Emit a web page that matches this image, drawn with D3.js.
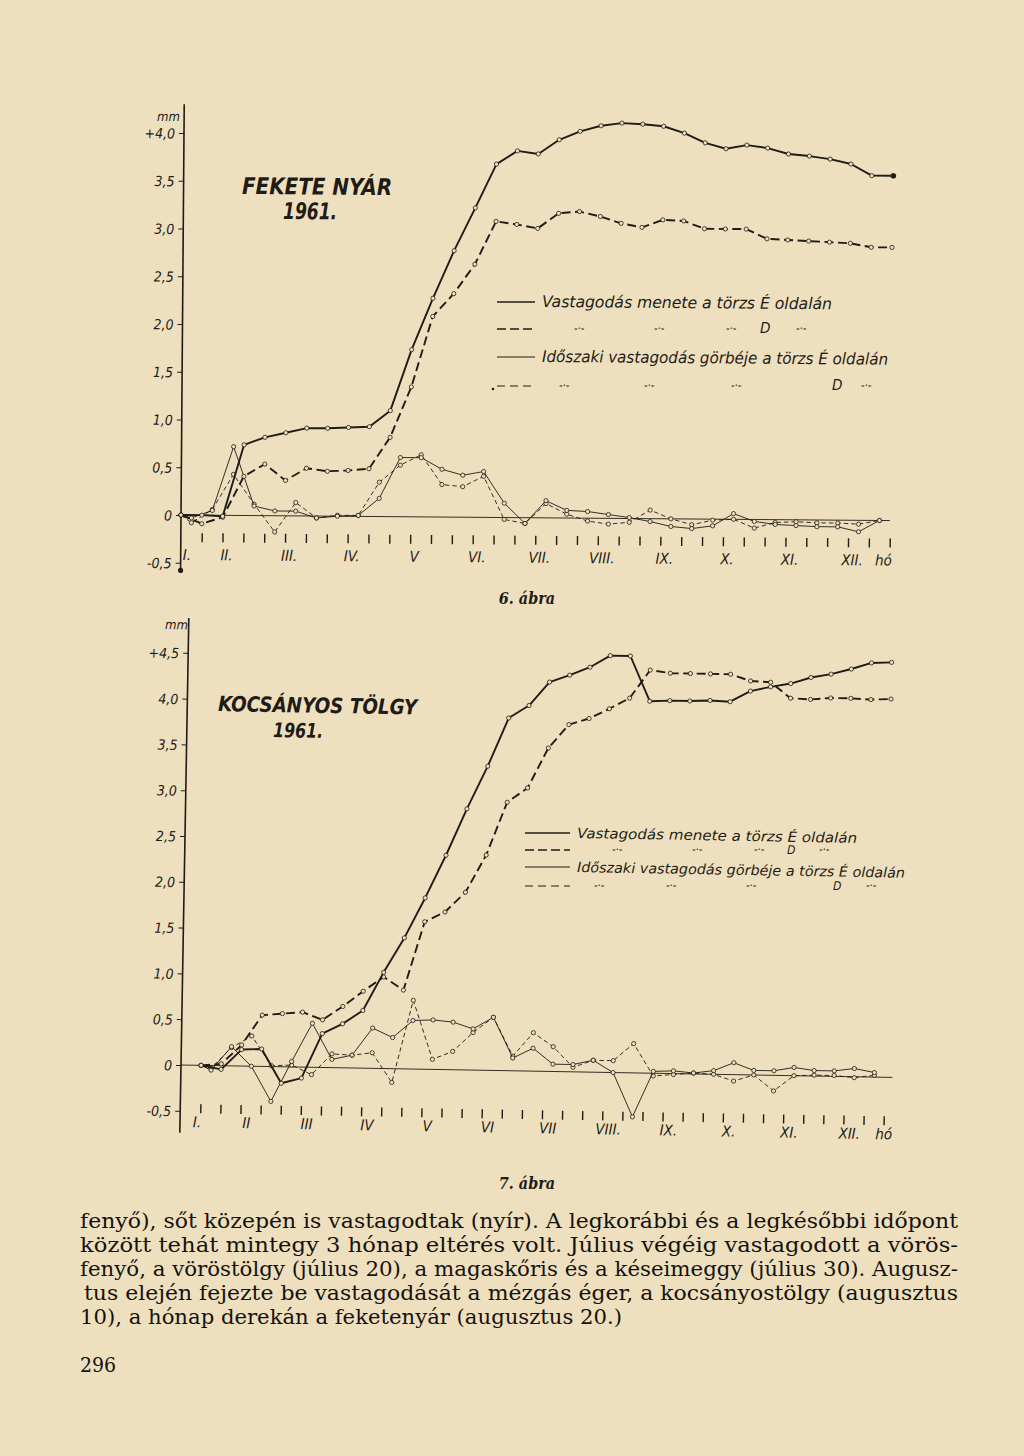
<!DOCTYPE html>
<html><head><meta charset="utf-8">
<script src="https://cdn.jsdelivr.net/npm/d3@7"></script>
<style>body{margin:0;background:#eee0be}svg{display:block}</style>
</head><body>
<svg id="c" width="1024" height="1456"></svg>
<script>
// ---------------- DATA ----------------
// 6. ábra – FEKETE NYÁR 1961 (dekads, cumulative k = 0..34)
const title6 = ["FEKETE NYÁR", "1961."];
const months6 = ["I.","II.","III.","IV.","V","VI.","VII.","VIII.","IX.","X.","XI.","XII."];
const yVals6 = [-0.5,0,0.5,1,1.5,2,2.5,3,3.5,4];
const yText6 = ["-0,5","0","0,5","1,0","1,5","2,0","2,5","3,0","3,5","+4,0"];
const cumE6 = [0,0,-0.01,0.74,0.82,0.87,0.92,0.92,0.93,0.94,1.11,1.75,2.29,2.79,3.24,3.70,3.84,3.81,3.96,4.05,4.11,4.14,4.13,4.11,4.04,3.94,3.88,3.92,3.89,3.83,3.81,3.78,3.73,3.61,3.61];
const cumD6 = [0,-0.09,-0.02,0.41,0.54,0.37,0.50,0.47,0.48,0.50,0.83,1.36,2.10,2.34,2.65,3.10,3.07,3.03,3.19,3.21,3.16,3.09,3.05,3.13,3.12,3.04,3.04,3.04,2.94,2.93,2.92,2.91,2.90,2.86,2.86];
const perE6 = [0,-0.03,0.05,0.72,0.10,0.05,0.05,-0.02,0.0,0.01,0.19,0.62,0.62,0.50,0.44,0.48,0.15,-0.06,0.18,0.08,0.07,0.04,0.01,-0.03,-0.08,-0.10,-0.07,0.06,-0.02,-0.05,-0.06,-0.07,-0.07,-0.12,0.0];
const perD6 = [0,-0.08,0.06,0.43,0.12,-0.17,0.14,-0.02,0.01,0.01,0.36,0.54,0.65,0.34,0.32,0.43,-0.02,-0.06,0.15,0.04,-0.03,-0.06,-0.04,0.09,0.0,-0.06,-0.01,0.0,-0.09,-0.03,-0.02,-0.03,-0.03,-0.04,0.0];

// 7. ábra – KOCSÁNYOS TÖLGY 1961 (cumulative k = 1..35)
const title7 = ["KOCSÁNYOS TÖLGY", "1961."];
const months7 = ["I.","II","III","IV","V","VI","VII","VIII.","IX.","X.","XI.","XII."];
const yVals7 = [-0.5,0,0.5,1,1.5,2,2.5,3,3.5,4,4.5];
const yText7 = ["-0,5","0","0,5","1,0","1,5","2,0","2,5","3,0","3,5","4,0","+4,5"];
const cumE7 = [0,-0.04,0.18,0.19,-0.18,-0.12,0.37,0.48,0.63,1.05,1.43,1.87,2.34,2.85,3.32,3.85,3.99,4.25,4.33,4.42,4.55,4.55,4.06,4.07,4.07,4.08,4.07,4.19,4.24,4.28,4.35,4.39,4.45,4.52,4.53];
const cumD7 = [0,0.02,0.23,0.56,0.58,0.60,0.52,0.67,0.84,1.00,0.86,1.61,1.72,1.94,2.35,2.93,3.09,3.53,3.79,3.86,3.97,4.09,4.40,4.37,4.37,4.37,4.37,4.30,4.29,4.12,4.11,4.13,4.13,4.12,4.13];
const perE7 = [0,-0.05,0.21,0.0,-0.38,0.06,0.48,0.09,0.14,0.44,0.34,0.53,0.54,0.52,0.45,0.58,0.14,0.25,0.08,0.08,0.13,0.0,-0.48,0.02,0.03,0.01,0.04,0.13,0.05,0.05,0.09,0.06,0.06,0.09,0.05];
const perD7 = [0,-0.03,0.20,0.33,0.01,0.02,-0.08,0.15,0.14,0.17,-0.15,0.75,0.11,0.20,0.41,0.58,0.16,0.42,0.27,0.05,0.13,0.13,0.32,-0.03,-0.01,0.01,0.0,-0.07,0.0,-0.17,0.0,0.01,0.01,-0.01,0.02];

const legendMain = "Vastagodás menete a törzs É oldalán";
const legendPer = "Időszaki vastagodás görbéje a törzs É oldalán";
const unitY = "mm", unitX = "hó";
const captions = ["6. ábra", "7. ábra"];
const bodyLines = [
  "fenyő), sőt közepén is vastagodtak (nyír). A legkorábbi és a legkésőbbi időpont",
  "között tehát mintegy 3 hónap eltérés volt. Július végéig vastagodott a vörös-",
  "fenyő, a vöröstölgy (július 20), a magaskőris és a késeimeggy (július 30). Augusz-",
  "tus elején fejezte be vastagodását a mézgás éger, a kocsányostölgy (augusztus",
  "10), a hónap derekán a feketenyár (augusztus 20.)"
];
const pageNo = "296";

// ---------------- STYLE / LAYOUT ----------------
const INK = "#1f1b16", PAPER = "#eee0be";
const HAND = "'Liberation Sans Narrow','DejaVu Sans Condensed',sans-serif";
const SERIF = "'DejaVu Serif Condensed','DejaVu Serif','Liberation Serif',serif";

const svg = d3.select("#c");
svg.append("rect").attr("width",1024).attr("height",1456).attr("fill",PAPER);

const cfg6 = {ox:181, oy:515, dx:20.85, dy:95.5, angle:0.45, start:0, nTicks:34, zeroEnd:34,
  axisTop:4.3, axisBottom:-0.58, tickOff:18, tickLen:9, labelDy:45, endDot:true, axisDot:true,
  monthK:i=> i===0?0.3:3*(i+1)-3.8, hoK:33.3,
  mm:[157,121], title:[[242,194,150,23],[283,219,54,23]],
  legend:{lineX:[497,535], textX:542, rows:[302,329,357,386], mainLen:290, perLen:346, fs:16, dfs:15,
    ditto2:[580,660,732,802], D2:765, ditto4:[565,650,737,867], D4:837, dot4:true}};
const cfg7 = {ox:181, oy:1065, dx:20.1, dy:91.6, angle:1.0, start:1, nTicks:35, zeroEnd:35.4,
  axisTop:4.88, axisBottom:-0.74, tickOff:39, tickLen:9, labelDy:62, endDot:false, axisDot:false,
  monthK:i=> i===0?0.85:3*(i+1)-2.7, hoK:34.6,
  mm:[165,629], title:[[218,711,199,21],[273,737,50,20]],
  legend:{lineX:[525,570], textX:577, rows:[833,850,867,886], mainLen:280, perLen:328, fs:14, dfs:12,
    ditto2:[618,698,760,825], D2:792, ditto4:[600,672,752,872], D4:838, dot4:false}};

function toLocal(c, px, py){
  const a = -c.angle*Math.PI/180, dx = px-c.ox, dy = py-c.oy;
  return [c.ox + dx*Math.cos(a) - dy*Math.sin(a), c.oy + dx*Math.sin(a) + dy*Math.cos(a)];
}

function drawChart(c, d){
  const g = svg.append("g").attr("transform",`rotate(${c.angle},${c.ox},${c.oy})`);
  const x = d3.scaleLinear().domain([0,1]).range([c.ox, c.ox + c.dx]);
  const y = d3.scaleLinear().domain([0,1]).range([c.oy, c.oy - c.dy]);

  // y axis (ticks + labels)
  const ya = g.append("g").attr("transform",`translate(${c.ox},0)`)
    .call(d3.axisLeft(y).tickValues(d.yVals).tickSize(5).tickPadding(4).tickFormat((v,i)=>d.yText[i]));
  ya.select(".domain").remove();
  ya.selectAll("line").attr("stroke",INK).attr("stroke-width",1);
  ya.selectAll("text").attr("fill",INK).attr("font-family",HAND).attr("font-style","italic")
    .attr("font-size",14).attr("dy","0.36em");
  g.append("line").attr("x1",c.ox).attr("x2",c.ox).attr("y1",y(c.axisTop)).attr("y2",y(c.axisBottom))
    .attr("stroke",INK).attr("stroke-width",1.6);
  if (c.axisDot) g.append("circle").attr("cx",c.ox).attr("cy",y(c.axisBottom)).attr("r",2.6).attr("fill",INK);
  let p = toLocal(c, c.mm[0], c.mm[1]);
  g.append("text").attr("x",p[0]).attr("y",p[1]).text(unitY).attr("fill",INK)
    .attr("font-family",HAND).attr("font-style","italic").attr("font-size",13);

  // zero line
  g.append("line").attr("x1",x(0)).attr("x2",x(c.zeroEnd)).attr("y1",y(0)).attr("y2",y(0))
    .attr("stroke",INK).attr("stroke-width",0.9);

  // dekad ticks
  const xa = g.append("g").attr("transform",`translate(0,${c.oy + c.tickOff})`)
    .call(d3.axisBottom(x).tickValues(d3.range(1, c.nTicks+1)).tickSize(c.tickLen).tickFormat(""));
  xa.select(".domain").remove();
  xa.selectAll("line").attr("stroke",INK).attr("stroke-width",1.4);

  // month labels
  g.selectAll("text.month").data(d.months).join("text").attr("class","month")
    .attr("x",(m,i)=>x(c.monthK(i))).attr("y",c.oy + c.labelDy).attr("text-anchor","middle")
    .attr("fill",INK).attr("font-family",HAND).attr("font-style","italic").attr("font-size",15).text(m=>m);
  g.append("text").attr("x",x(c.hoK)).attr("y",c.oy + c.labelDy).attr("fill",INK)
    .attr("font-family",HAND).attr("font-style","italic").attr("font-size",15).text(unitX);

  // series
  const cumPts = arr => arr.map((v,i)=>({k:c.start+i, v}));
  const perPts = arr => arr.map((v,i)=>({k: i===0 ? c.start : c.start + i - 0.5, v}));
  const line = d3.line().x(q=>x(q.k)).y(q=>y(q.v));
  const series = [
    {pts:perPts(d.perD), w:0.9, dash:"4.5,3"},
    {pts:perPts(d.perE), w:0.9, dash:null},
    {pts:cumPts(d.cumD), w:1.9, dash:"9,4.5"},
    {pts:cumPts(d.cumE), w:1.9, dash:null}
  ];
  series.forEach(s=>{
    g.append("path").attr("d",line(s.pts)).attr("fill","none").attr("stroke",INK)
      .attr("stroke-width",s.w).attr("stroke-dasharray",s.dash).attr("stroke-linejoin","round");
    g.append("g").selectAll("circle").data(s.pts).join("circle")
      .attr("cx",q=>x(q.k)).attr("cy",q=>y(q.v)).attr("r",2.1)
      .attr("fill",PAPER).attr("stroke",INK).attr("stroke-width",0.8);
  });
  if (c.endDot){
    const last = cumPts(d.cumE).slice(-1)[0];
    g.append("circle").attr("cx",x(last.k)+1).attr("cy",y(last.v)).attr("r",2.6).attr("fill",INK);
  }

  // title
  d.title.forEach((t,i)=>{
    const [tx,ty,tl,fs] = c.title[i]; const q = toLocal(c,tx,ty);
    g.append("text").attr("x",q[0]).attr("y",q[1]).attr("textLength",tl).attr("lengthAdjust","spacingAndGlyphs")
      .attr("fill",INK).attr("font-family",HAND).attr("font-style","italic").attr("font-weight","bold")
      .attr("font-size",fs).text(t);
  });

  // legend
  const L = c.legend;
  const addLine = (row, dash, w) => {
    const a = toLocal(c, L.lineX[0], row), b = toLocal(c, L.lineX[1], row);
    g.append("line").attr("x1",a[0]).attr("y1",a[1]).attr("x2",b[0]).attr("y2",b[1])
      .attr("stroke",INK).attr("stroke-width",w).attr("stroke-dasharray",dash);
  };
  const addText = (tx, row, str, len, fs, dyb) => {
    const q = toLocal(c, tx, row + (dyb===undefined?5:dyb));
    const t = g.append("text").attr("x",q[0]).attr("y",q[1]).attr("fill",INK).attr("font-family",HAND)
      .attr("font-style","italic").attr("font-size",fs).text(str);
    if (len) t.attr("textLength",len).attr("lengthAdjust","spacingAndGlyphs");
  };
  const R = L.rows;
  addLine(R[0], null, 1.3);
  addText(L.textX, R[0], legendMain, L.mainLen, L.fs);
  addLine(R[1], "9,4", 1.6);
  L.ditto2.forEach(xx=>addText(xx-6, R[1], "-·-", null, 11, 3));
  addText(L.D2-5, R[1], "D", null, L.dfs, 4);
  addLine(R[2], null, 1.1);
  addText(L.textX, R[2], legendPer, L.perLen, L.fs);
  addLine(R[3], c.dot4 ? "4,2.5" : "8,5", 1.0);
  if (L.dot4){ const q = toLocal(c, L.lineX[0]-4, R[3]+3); g.append("circle").attr("cx",q[0]).attr("cy",q[1]).attr("r",1.3).attr("fill",INK); }
  L.ditto4.forEach(xx=>addText(xx-6, R[3], "-·-", null, 11, 3));
  addText(L.D4-5, R[3], "D", null, L.dfs, 4);
}

drawChart(cfg6, {title:title6, months:months6, yVals:yVals6, yText:yText6, cumE:cumE6, cumD:cumD6, perE:perE6, perD:perD6});
drawChart(cfg7, {title:title7, months:months7, yVals:yVals7, yText:yText7, cumE:cumE7, cumD:cumD7, perE:perE7, perD:perD7});

// captions
[[527,604],[527,1189]].forEach((pos,i)=>{
  svg.append("text").attr("x",pos[0]).attr("y",pos[1]).attr("text-anchor","middle").attr("fill",INK)
    .attr("font-family",SERIF).attr("font-style","italic").attr("font-weight","bold").attr("font-size",16)
    .text(captions[i]);
});

// body text
const bodyX = [80,80,80,84,80], bodyLen = [878,878,878,874,542], bodyY = [1228,1252,1276,1300,1324];
bodyLines.forEach((s,i)=>{
  svg.append("text").attr("x",bodyX[i]).attr("y",bodyY[i]).attr("fill","#15120e")
    .attr("font-family",SERIF).attr("font-size",21)
    .attr("textLength",bodyLen[i]).attr("lengthAdjust","spacingAndGlyphs").text(s);
});
svg.append("text").attr("x",80).attr("y",1372).attr("fill","#15120e").attr("font-family",SERIF)
  .attr("font-size",21).text(pageNo);
</script>
</body></html>
